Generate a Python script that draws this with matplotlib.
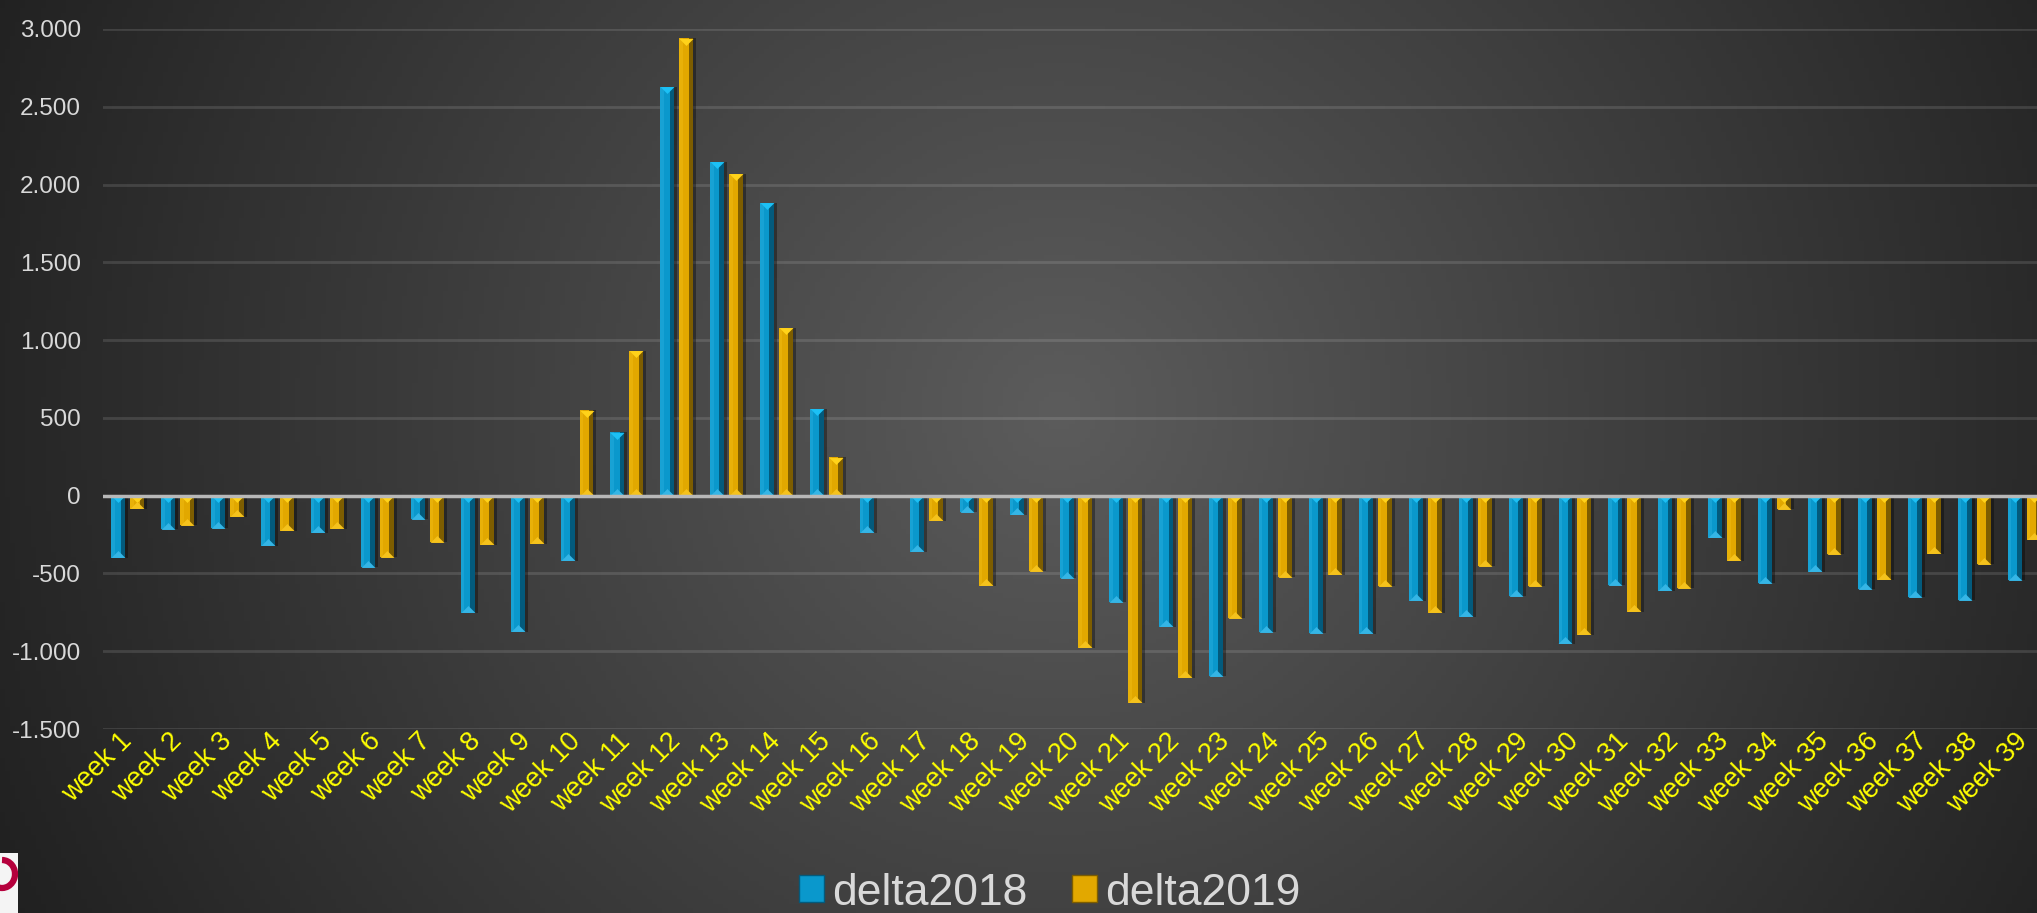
import numpy as np
import matplotlib
matplotlib.use("Agg")
import matplotlib.pyplot as plt
from matplotlib.patches import Patch, Rectangle, Arc
from matplotlib.ticker import FuncFormatter, MultipleLocator

weeks = [f"week {i}" for i in range(1, 40)]

delta2018 = [-400, -216, -209, -323, -237, -459, -152, -754, -876, -417,
             409, 2630, 2145, 1882, 559,
             -237, -359, -107, -122, -532, -684, -844, -1160, -878, -885,
             -887, -675, -780, -647, -953, -575, -611, -269, -562, -489,
             -603, -654, -673, -545]

delta2019 = [-85, -190, -135, -224, -214, -395, -301, -314, -308, 550,
             930, 2940, 2070, 1078, 246,
             0, -160, -579, -487, -979, -1331, -1169, -789, -524, -509,
             -581, -754, -455, -581, -895, -746, -594, -417, -88, -376,
             -541, -372, -440, -284]

W, H = 2037, 913
fig = plt.figure(figsize=(W / 100, H / 100), dpi=100)

# background gradient
bg = fig.add_axes([0, 0, 1, 1], zorder=-10)
gx, gy = np.meshgrid(np.linspace(0, 1, 400), np.linspace(0, 1, 200))
d = np.sqrt(((gx - 0.52) / 0.5) ** 2 + ((gy - 0.45) / 1.1) ** 2)
val = np.clip(92 - 52 * d, 30, 95) / 255.0
bg.imshow(np.dstack([val, val, val]), extent=[0, 1, 0, 1], aspect="auto",
          origin="upper")
bg.set_axis_off()

ax = fig.add_axes([103 / W, 184 / H, 1946 / W, 700 / H])
ax.set_facecolor("none")
for s in ax.spines.values():
    s.set_visible(False)

x = np.arange(len(weeks))
bw = 0.28
off = 0.19
unit = 4500 / 700  # data units per pixel


def draw_series(vals, xpos, main, dark, cap, bevel):
    vals = np.array(vals, dtype=float)
    ax.bar(xpos + 0.06, vals, bw, color="black", alpha=0.35, zorder=2)
    ax.bar(xpos, vals, bw, color=main, zorder=3)
    ax.bar(xpos + bw * 0.33, vals, bw * 0.34, color=dark, zorder=3)
    ax.bar(xpos - bw * 0.38, vals, bw * 0.24, color=bevel, alpha=0.35, zorder=3)
    m = vals != 0
    top = np.maximum(vals, 0)
    bot = np.minimum(vals, 0)
    tri_dn = [(-1, 0.5), (1, 0.5), (0, -0.5)]
    tri_up = [(-1, -0.5), (1, -0.5), (0, 0.5)]
    ax.scatter(xpos[m], top[m] - 3.5 * unit, marker=tri_dn, s=100,
               color=cap, linewidths=0, zorder=4)
    ax.scatter(xpos[m], bot[m] + 3.5 * unit, marker=tri_up, s=100,
               color=bevel, linewidths=0, zorder=4)


draw_series(delta2018, x - off, "#0a98cc", "#035a7c", "#1cc0f5", "#35b5e5")
draw_series(delta2019, x + off, "#e2a800", "#7d5d00", "#ffd21a", "#f5c21c")

ax.set_xlim(-0.5, len(weeks) - 0.5)
ax.set_ylim(-1500, 3000)
ax.yaxis.set_major_locator(MultipleLocator(500))
ax.yaxis.set_major_formatter(FuncFormatter(lambda v, p: f"{int(v):,}".replace(",", ".")))
ax.grid(axis="y", color="white", alpha=0.12, linewidth=2, zorder=0)
ax.set_axisbelow(True)
ax.axhline(0, color="#b8b8b8", linewidth=2.5, zorder=5)

ax.tick_params(axis="y", length=0, pad=16, labelcolor="#d9d9d9")
for t in ax.get_yticklabels():
    t.set_family("Liberation Sans")
    t.set_fontsize(17.5)

ax.set_xticks(x)
ax.set_xticklabels(weeks, rotation=45, ha="right", va="center",
                   rotation_mode="anchor", color="#ffff00", fontsize=19.5,
                   family="Liberation Sans")
ax.tick_params(axis="x", length=0, pad=6)

handles = [Patch(facecolor="#0a98cc", edgecolor="#035a7c", label="delta2018"),
           Patch(facecolor="#e2a800", edgecolor="#7d5d00", label="delta2019")]
leg = fig.legend(handles=handles, loc="center", bbox_to_anchor=(1050 / W, 20 / H),
                 ncol=2, frameon=False, handlelength=0.55,
                 handleheight=0.55, handletextpad=0.2, columnspacing=1.0,
                 prop={"family": "Liberation Sans", "size": 32})
for t in leg.get_texts():
    t.set_color("#d9d9d9")

# partial logo at bottom-left corner
fig.add_artist(Rectangle((0, 0), 18 / W, 60 / H, transform=fig.transFigure,
                         facecolor="#f4f4f4", edgecolor="none"))
fig.add_artist(Arc((2 / W, 39 / H), 26 / W, 28 / H, theta1=-100, theta2=90,
                   transform=fig.transFigure, color="#b5003c", linewidth=4.5))

fig.savefig("out.png", dpi=100)
